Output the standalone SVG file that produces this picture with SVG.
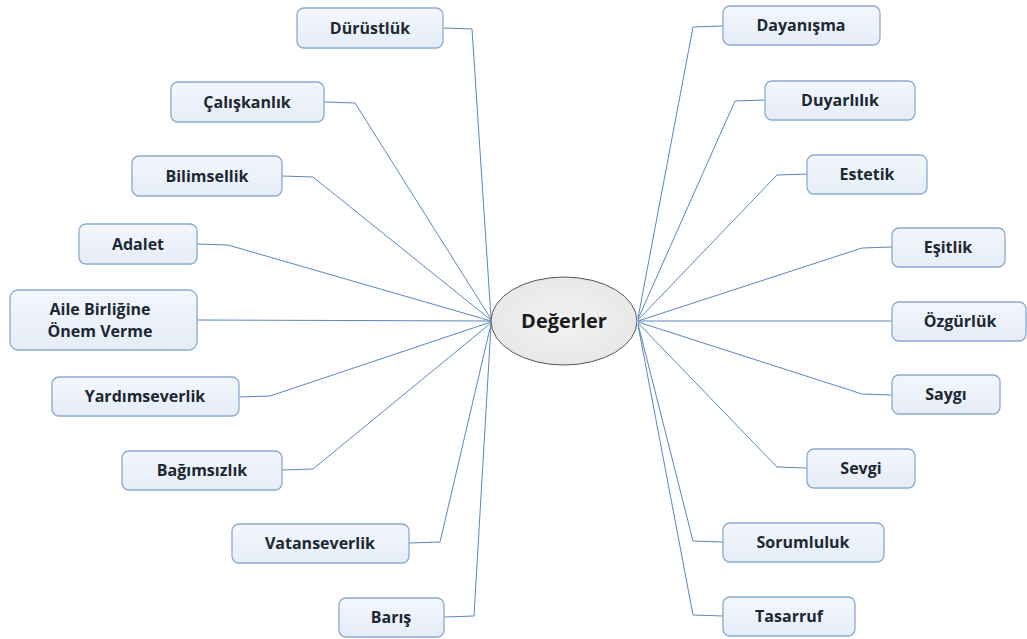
<svg xmlns="http://www.w3.org/2000/svg" width="1027" height="639" viewBox="0 0 1027 639">
<defs>
<linearGradient id="g" x1="0" y1="0" x2="0" y2="1"><stop offset="0" stop-color="#f3f6fc"/><stop offset="1" stop-color="#e6edf8"/></linearGradient>
<radialGradient id="e" cx="0.5" cy="0.5" r="0.6"><stop offset="0" stop-color="#f2f2f2"/><stop offset="1" stop-color="#e6e6e6"/></radialGradient>
</defs>
<style>
.n rect{fill:url(#g);stroke:#8aaad0;stroke-width:1.3}
.n text{font-family:"Open Sans","DejaVu Sans",sans-serif;font-weight:bold;font-size:16px;fill:#1c2933;text-anchor:middle}
.c polyline{fill:none;stroke:#5b87bd;stroke-width:1}
</style>
<rect width="1027" height="639" fill="#ffffff"/>
<g class="c" id="connectors">
<polyline points="443,28 472,29 491,318"/>
<polyline points="324,102 355,103 491,319"/>
<polyline points="282,176 313,177 491,320"/>
<polyline points="197,244 228,245 491,321"/>
<polyline points="197,320 491,321"/>
<polyline points="239,397 270,396 491,322"/>
<polyline points="282,470 313,469 491,323"/>
<polyline points="409,543 440,542 491,324"/>
<polyline points="444,617 474,616 491,325"/>
<polyline points="723,26 693,27 638,318"/>
<polyline points="765,100 735,101 638,319"/>
<polyline points="807,174 777,175 638,320"/>
<polyline points="892,247 862,248 638,321"/>
<polyline points="892,321 638,321"/>
<polyline points="892,395 862,394 638,322"/>
<polyline points="807,468 777,467 638,323"/>
<polyline points="723,542 693,541 638,324"/>
<polyline points="723,616 693,615 638,325"/>
</g>
<g id="center">
<ellipse cx="564" cy="321" rx="73" ry="44" fill="url(#e)" stroke="#555" stroke-width="1"/>
<text x="564" y="328" style="font-family:'Open Sans','DejaVu Sans',sans-serif;font-weight:bold;font-size:20px;fill:#1c1c1c;text-anchor:middle">Değerler</text>
</g>
<g class="n" id="n-durustluk"><rect x="297" y="8" width="146" height="40" rx="7"/><text x="370" y="34">Dürüstlük</text></g>
<g class="n" id="n-caliskanlik"><rect x="171" y="82" width="153" height="40" rx="7"/><text x="247" y="108">Çalışkanlık</text></g>
<g class="n" id="n-bilimsellik"><rect x="132" y="156" width="150" height="40" rx="7"/><text x="207" y="182">Bilimsellik</text></g>
<g class="n" id="n-adalet"><rect x="79" y="224" width="118" height="40" rx="7"/><text x="138" y="250">Adalet</text></g>
<g class="n" id="n-aile"><rect x="10" y="290" width="187" height="60" rx="8"/><text x="100" y="315">Aile Birliğine</text><text x="100" y="337">Önem Verme</text></g>
<g class="n" id="n-yardimseverlik"><rect x="52" y="377" width="187" height="39" rx="7"/><text x="145" y="402">Yardımseverlik</text></g>
<g class="n" id="n-bagimsizlik"><rect x="122" y="451" width="160" height="39" rx="7"/><text x="202" y="476">Bağımsızlık</text></g>
<g class="n" id="n-vatanseverlik"><rect x="232" y="524" width="177" height="39" rx="7"/><text x="320" y="549">Vatanseverlik</text></g>
<g class="n" id="n-baris"><rect x="339" y="598" width="105" height="39" rx="7"/><text x="391" y="623">Barış</text></g>
<g class="n" id="n-dayanisma"><rect x="723" y="6" width="157" height="39" rx="7"/><text x="801" y="31">Dayanışma</text></g>
<g class="n" id="n-duyarlilik"><rect x="765" y="81" width="150" height="39" rx="7"/><text x="840" y="106">Duyarlılık</text></g>
<g class="n" id="n-estetik"><rect x="807" y="155" width="120" height="39" rx="7"/><text x="867" y="180">Estetik</text></g>
<g class="n" id="n-esitlik"><rect x="892" y="228" width="113" height="39" rx="7"/><text x="948" y="253">Eşitlik</text></g>
<g class="n" id="n-ozgurluk"><rect x="892" y="302" width="134" height="39" rx="7"/><text x="960" y="327">Özgürlük</text></g>
<g class="n" id="n-saygi"><rect x="892" y="375" width="108" height="39" rx="7"/><text x="946" y="400">Saygı</text></g>
<g class="n" id="n-sevgi"><rect x="807" y="449" width="108" height="39" rx="7"/><text x="861" y="474">Sevgi</text></g>
<g class="n" id="n-sorumluluk"><rect x="723" y="523" width="161" height="39" rx="7"/><text x="803" y="548">Sorumluluk</text></g>
<g class="n" id="n-tasarruf"><rect x="723" y="597" width="132" height="39" rx="7"/><text x="789" y="622">Tasarruf</text></g>
</svg>
